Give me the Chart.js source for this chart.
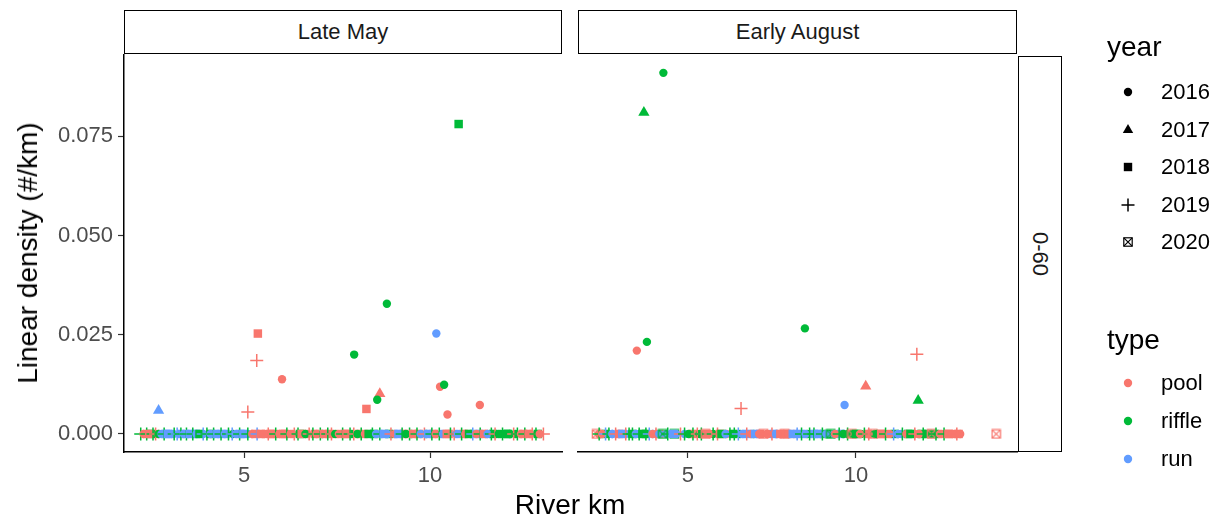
<!DOCTYPE html>
<html>
<head>
<meta charset="utf-8">
<script src="https://cdn.jsdelivr.net/npm/chart.js@4.4.0/dist/chart.umd.min.js"></script>
<style>
    body { margin: 0; background: #fff; font-family: "Liberation Sans", Arial, sans-serif; }
    #wrap { position: relative; width: 1224px; height: 523px; overflow: hidden; background: #fff; }
    canvas { position: absolute; }
    .strip { position: absolute; box-sizing: border-box; border: 1.5px solid #000; background: #fff;
             color: #1a1a1a; font-size: 22px; display: flex; align-items: center; justify-content: center; }
    .lbl { position: absolute; white-space: nowrap; transform: translateY(-50%); color: #000; }
</style>
</head>
<body>
<div id="wrap">
    <canvas id="mayChart" width="570" height="523" style="left:0;top:0"></canvas>
    <canvas id="augChart" width="460" height="523" style="left:570px;top:0"></canvas>
    <canvas id="legendShapes" width="40" height="420" style="left:1108px;top:60px"></canvas>

    <div class="strip" style="left:124px;top:10px;width:438px;height:44px">Late May</div>
    <div class="strip" style="left:578px;top:10px;width:439px;height:44px">Early August</div>
    <div class="strip" style="left:1018px;top:56px;width:44px;height:396px;writing-mode:vertical-rl">0-60</div>

    <div class="lbl" style="left:28px;top:253px;font-size:28px;transform:translate(-50%,-50%) rotate(-90deg)">Linear density (#/km)</div>
    <div class="lbl" style="left:570px;top:505px;font-size:28px;transform:translate(-50%,-50%)">River km</div>
    <div id="legend"></div>
</div>

<script>
    const family = '"Liberation Sans", Arial, sans-serif';

    const years = [2016, 2017, 2018, 2019, 2020];
    const types = ['pool', 'riffle', 'run'];
    const typeColors = ['#F8766D', '#00BA38', '#619CFF'];
    const yTicks = [0, 0.025, 0.05, 0.075];
    const xTicks = [5, 10];

    // Late May - sites with fish
    const mayX = [2.70, 5.10, 5.37, 5.34, 6.02, 7.96, 8.84, 8.65, 8.58, 8.29, 10.17, 10.27, 10.38, 11.34, 10.47, 10.77];
    const mayY = [0.0059, 0.0055, 0.0253, 0.0185, 0.0138, 0.0200, 0.0328, 0.0101, 0.0086, 0.0063, 0.0253, 0.0119, 0.0124, 0.0073, 0.0049, 0.0781];
    const mayType = ['run', 'pool', 'pool', 'pool', 'pool', 'riffle', 'riffle', 'pool', 'riffle', 'pool', 'run', 'pool', 'riffle', 'pool', 'pool', 'riffle'];
    const mayYear = [2017, 2019, 2018, 2019, 2016, 2016, 2016, 2017, 2016, 2018, 2016, 2016, 2016, 2016, 2016, 2018];

    // Late May - sites with none (density 0), filled markers
    const mayZeroFillX = [2.30, 2.50, 2.70, 2.90, 3.10, 3.30, 3.50, 3.70, 3.90, 4.10, 4.30, 4.50, 4.70, 4.90, 5.10, 5.30, 5.50, 5.70,
        5.90, 6.10, 6.30, 6.50, 6.70, 6.90, 7.10, 7.30, 7.50, 7.70, 7.90, 8.10, 8.30, 8.50, 8.70, 8.90, 9.10, 9.30,
        9.50, 9.70, 9.90, 10.10, 10.30, 10.50, 10.70, 10.90, 11.10, 11.30, 11.50, 11.70, 11.90, 12.10, 12.30, 12.50, 12.70, 12.90];
    const mayZeroFillType = ['pool', 'riffle', 'pool', 'run', 'run', 'run', 'run', 'run', 'run', 'riffle', 'run', 'run', 'riffle', 'run', 'run', 'pool', 'pool', 'pool',
        'pool', 'pool', 'pool', 'riffle', 'pool', 'pool', 'riffle', 'pool', 'pool', 'pool', 'riffle', 'pool', 'pool', 'riffle', 'run', 'riffle', 'run', 'pool',
        'riffle', 'pool', 'riffle', 'pool', 'run', 'pool', 'run', 'pool', 'riffle', 'run', 'pool', 'riffle', 'riffle', 'riffle', 'riffle', 'pool', 'pool', 'riffle'];
    const mayZeroFillYear = [2016, 2018, 2016, 2018, 2016, 2018, 2016, 2018, 2016, 2018, 2016, 2018, 2016, 2018, 2016, 2018, 2016, 2018,
        2016, 2018, 2016, 2018, 2016, 2018, 2016, 2018, 2016, 2018, 2016, 2018, 2016, 2018, 2016, 2018, 2016, 2018,
        2016, 2018, 2016, 2018, 2016, 2018, 2016, 2018, 2016, 2018, 2016, 2018, 2016, 2018, 2016, 2018, 2016, 2018];

    // Late May - sites with none (density 0)
    const mayZeroX = [2.22, 2.30, 2.38, 2.45, 2.55, 2.62, 2.70, 2.78, 2.85, 2.95, 3.05, 3.12, 3.20, 3.30, 3.38, 3.45, 3.55, 3.62, 3.72, 3.80,
        3.90, 4.00, 4.10, 4.18, 4.28, 4.38, 4.48, 4.58, 4.68, 4.78, 4.88, 4.98, 5.10, 5.22, 5.35, 5.45, 5.55, 5.65, 5.75, 5.85,
        5.95, 6.05, 6.15, 6.25, 6.35, 6.45, 6.55, 6.65, 6.75, 6.85, 6.95, 7.05, 7.15, 7.25, 7.35, 7.45, 7.55, 7.65, 7.75, 7.85,
        7.95, 8.05, 8.15, 8.25, 8.35, 8.45, 8.55, 8.65, 8.75, 8.85, 8.95, 9.05, 9.15, 9.25, 9.35, 9.45, 9.55, 9.65, 9.75, 9.85,
        9.95, 10.05, 10.15, 10.25, 10.35, 10.45, 10.55, 10.65, 10.75, 10.85, 10.95, 11.05, 11.15, 11.25, 11.35, 11.45, 11.55, 11.65, 11.75, 11.85,
        11.95, 12.05, 12.15, 12.25, 12.35, 12.45, 12.55, 12.65, 12.75, 12.85, 12.95, 13.05];
    const mayZeroType = ['riffle', 'pool', 'riffle', 'pool', 'riffle', 'pool', 'riffle', 'run', 'riffle', 'run', 'run', 'riffle', 'run', 'riffle', 'run', 'riffle', 'run', 'riffle', 'run', 'riffle',
        'run', 'riffle', 'run', 'riffle', 'run', 'riffle', 'run', 'riffle', 'run', 'run', 'riffle', 'run', 'riffle', 'pool', 'run', 'pool', 'pool', 'pool', 'pool', 'riffle',
        'pool', 'pool', 'riffle', 'pool', 'pool', 'riffle', 'pool', 'riffle', 'pool', 'riffle', 'pool', 'riffle', 'pool', 'riffle', 'pool', 'riffle', 'pool', 'riffle', 'pool', 'riffle',
        'pool', 'riffle', 'riffle', 'pool', 'riffle', 'riffle', 'run', 'riffle', 'run', 'run', 'pool', 'pool', 'run', 'riffle', 'riffle', 'riffle', 'pool', 'riffle', 'run', 'pool',
        'run', 'riffle', 'pool', 'riffle', 'run', 'pool', 'riffle', 'pool', 'run', 'riffle', 'pool', 'riffle', 'run', 'pool', 'riffle', 'pool', 'run', 'riffle', 'pool', 'riffle',
        'riffle', 'riffle', 'riffle', 'pool', 'riffle', 'pool', 'riffle', 'pool', 'pool', 'riffle', 'pool', 'pool'];
    const mayZeroYear = [2019, 2016, 2019, 2018, 2019, 2019, 2016, 2016, 2019, 2018, 2016, 2019, 2019, 2019, 2016, 2019, 2018, 2019, 2016, 2018,
        2019, 2019, 2016, 2019, 2018, 2019, 2016, 2019, 2019, 2016, 2019, 2018, 2019, 2016, 2019, 2018, 2016, 2019, 2018, 2019,
        2016, 2018, 2019, 2016, 2019, 2019, 2018, 2016, 2019, 2019, 2016, 2019, 2018, 2019, 2019, 2016, 2016, 2019, 2018, 2019,
        2019, 2016, 2019, 2016, 2018, 2019, 2016, 2019, 2018, 2016, 2019, 2016, 2018, 2019, 2016, 2019, 2018, 2019, 2016, 2019,
        2018, 2019, 2016, 2019, 2016, 2018, 2019, 2019, 2016, 2019, 2016, 2018, 2019, 2016, 2019, 2018, 2016, 2019, 2019, 2016,
        2019, 2018, 2016, 2019, 2019, 2016, 2019, 2018, 2019, 2019, 2016, 2019];

    // Early August - sites with fish
    const augX = [4.27, 3.69, 3.48, 3.78, 8.48, 11.81, 10.29, 11.85, 9.66, 6.58];
    const augY = [0.0910, 0.0810, 0.0210, 0.0232, 0.0266, 0.0201, 0.0120, 0.0084, 0.0073, 0.0064];
    const augType = ['riffle', 'riffle', 'pool', 'riffle', 'riffle', 'pool', 'pool', 'riffle', 'run', 'pool'];
    const augYear = [2016, 2017, 2016, 2016, 2016, 2019, 2017, 2017, 2016, 2019];

    // Early August - sites with none (density 0), filled markers
    const augZeroFillX = [2.35, 2.55, 2.75, 2.95, 3.15, 3.35, 3.55, 3.75, 3.95, 4.15, 4.35, 4.60, 4.90, 5.15, 5.35, 5.55, 5.75, 5.95,
        6.15, 6.35, 6.55, 6.75, 6.95, 7.15, 7.35, 7.55, 7.75, 7.95, 8.15, 8.35, 8.55, 8.75, 8.95, 9.15, 9.35, 9.55,
        9.75, 9.95, 10.15, 10.35, 10.55, 10.75, 10.95, 11.15, 11.35, 11.55, 11.75, 11.95, 12.15, 12.35, 12.55, 12.75, 12.95, 13.05];
    const augZeroFillType = ['pool', 'riffle', 'run', 'pool', 'run', 'riffle', 'run', 'riffle', 'run', 'pool', 'run', 'riffle', 'run', 'pool', 'riffle', 'pool', 'riffle', 'pool',
        'pool', 'riffle', 'riffle', 'run', 'riffle', 'pool', 'pool', 'run', 'pool', 'pool', 'pool', 'run', 'riffle', 'run', 'riffle', 'riffle', 'run', 'run',
        'riffle', 'riffle', 'riffle', 'pool', 'riffle', 'pool', 'pool', 'riffle', 'run', 'riffle', 'pool', 'riffle', 'pool', 'riffle', 'pool', 'pool', 'pool', 'pool'];
    const augZeroFillYear = [2016, 2018, 2016, 2018, 2016, 2018, 2016, 2018, 2016, 2018, 2016, 2020, 2016, 2018, 2016, 2018, 2016, 2018,
        2016, 2018, 2016, 2018, 2016, 2018, 2016, 2018, 2016, 2018, 2016, 2018, 2016, 2018, 2016, 2018, 2016, 2018,
        2016, 2018, 2016, 2018, 2016, 2018, 2016, 2018, 2016, 2018, 2016, 2018, 2016, 2018, 2016, 2018, 2016, 2018];

    // Early August - sites with none (density 0)
    const augZeroX = [2.28, 2.36, 2.45, 2.55, 2.65, 2.75, 2.85, 2.95, 3.05, 3.15, 3.25, 3.35, 3.45, 3.55, 3.65, 3.75, 3.85, 3.95, 4.05, 4.15,
        4.25, 4.40, 4.55, 4.65, 4.78, 4.90, 5.02, 5.15, 5.28, 5.40, 5.52, 5.65, 5.75, 5.88, 6.00, 6.12, 6.25, 6.38, 6.50, 6.62,
        6.75, 6.88, 7.00, 7.12, 7.25, 7.38, 7.50, 7.62, 7.75, 7.88, 8.00, 8.12, 8.25, 8.38, 8.50, 8.62, 8.75, 8.88, 9.00, 9.12,
        9.25, 9.38, 9.50, 9.62, 9.75, 9.88, 10.00, 10.12, 10.25, 10.38, 10.50, 10.62, 10.75, 10.88, 11.00, 11.12, 11.25, 11.38, 11.50, 11.62,
        11.75, 11.88, 12.00, 12.12, 12.25, 12.38, 12.50, 12.62, 12.75, 12.88, 13.00, 13.10, 14.17];
    const augZeroType = ['pool', 'riffle', 'pool', 'run', 'riffle', 'run', 'pool', 'pool', 'run', 'pool', 'riffle', 'riffle', 'run', 'riffle', 'riffle', 'riffle', 'run', 'pool', 'pool', 'run',
        'riffle', 'riffle', 'run', 'run', 'pool', 'riffle', 'riffle', 'riffle', 'pool', 'riffle', 'pool', 'pool', 'riffle', 'pool', 'riffle', 'run', 'riffle', 'riffle', 'run', 'run',
        'pool', 'pool', 'run', 'pool', 'pool', 'pool', 'pool', 'run', 'pool', 'pool', 'pool', 'run', 'run', 'riffle', 'run', 'riffle', 'riffle', 'run', 'riffle', 'run',
        'riffle', 'pool', 'riffle', 'riffle', 'riffle', 'pool', 'riffle', 'pool', 'riffle', 'pool', 'pool', 'riffle', 'pool', 'riffle', 'pool', 'run', 'run', 'riffle', 'pool', 'riffle',
        'pool', 'pool', 'riffle', 'riffle', 'pool', 'riffle', 'pool', 'riffle', 'pool', 'pool', 'pool', 'pool', 'pool'];
    const augZeroYear = [2020, 2019, 2016, 2019, 2019, 2016, 2019, 2016, 2018, 2019, 2019, 2019, 2016, 2019, 2018, 2019, 2019, 2016, 2019, 2016,
        2020, 2019, 2018, 2016, 2019, 2019, 2016, 2019, 2019, 2019, 2020, 2016, 2019, 2019, 2018, 2016, 2019, 2019, 2019, 2016,
        2019, 2016, 2018, 2016, 2020, 2016, 2019, 2016, 2018, 2020, 2016, 2018, 2019, 2019, 2016, 2019, 2019, 2018, 2019, 2016,
        2020, 2016, 2019, 2016, 2019, 2020, 2018, 2016, 2019, 2019, 2020, 2016, 2018, 2019, 2016, 2019, 2016, 2019, 2016, 2018,
        2019, 2016, 2019, 2018, 2020, 2019, 2016, 2019, 2018, 2016, 2019, 2016, 2020];

    const yMin = -0.00455, yMax = 0.0955;

    // ggplot shapes 16, 17, 15, 3, 7
    function drawShape(ctx, year, x, y, color) {
        ctx.save();
        ctx.fillStyle = color;
        ctx.strokeStyle = color;
        ctx.beginPath();
        if (year === 2016) {
            ctx.arc(x, y, 4.2, 0, Math.PI * 2);
            ctx.fill();
        } else if (year === 2017) {
            const r = 6;
            ctx.moveTo(x, y - r);
            ctx.lineTo(x + r * 0.866, y + r * 0.5);
            ctx.lineTo(x - r * 0.866, y + r * 0.5);
            ctx.closePath();
            ctx.fill();
        } else if (year === 2018) {
            ctx.rect(x - 4.2, y - 4.2, 8.4, 8.4);
            ctx.fill();
        } else if (year === 2019) {
            ctx.lineWidth = 1.5;
            ctx.moveTo(x - 6.5, y); ctx.lineTo(x + 6.5, y);
            ctx.moveTo(x, y - 6.5); ctx.lineTo(x, y + 6.5);
            ctx.stroke();
        } else {
            ctx.lineWidth = 1.2;
            ctx.strokeRect(x - 4.2, y - 4.2, 8.4, 8.4);
            ctx.moveTo(x - 4.2, y - 4.2); ctx.lineTo(x + 4.2, y + 4.2);
            ctx.moveTo(x + 4.2, y - 4.2); ctx.lineTo(x - 4.2, y + 4.2);
            ctx.stroke();
        }
        ctx.restore();
    }

    // boxed-x marker has no Chart.js built-in, so make one image per colour
    const boxImages = {};
    types.forEach((t, i) => {
        const c = document.createElement('canvas');
        c.width = 11; c.height = 11;
        drawShape(c.getContext('2d'), 2020, 5.5, 5.5, typeColors[i]);
        boxImages[t] = c;
    });

    const styleByYear = {2016: 'circle', 2017: 'triangle', 2018: 'rect', 2019: 'cross'};
    const radiusByYear = {2016: 4.2, 2017: 6.5, 2018: 6, 2019: 6.5, 2020: 5};

    function buildPoints(xs, ys, tp, yr) {
        return xs.map((x, i) => ({x: x, y: ys ? ys[i] : 0, type: tp[i], year: yr[i]}));
    }

    function colorOf(ctx) {
        return typeColors[types.indexOf(ctx.raw.type)];
    }

    function makeChart(id, pts, xMin, xMax, showY, pad) {
        return new Chart(document.getElementById(id), {
            type: 'scatter',
            data: {
                datasets: [{
                    data: pts,
                    pointStyle: c => c.raw.year === 2020 ? boxImages[c.raw.type] : styleByYear[c.raw.year],
                    pointRadius: c => radiusByYear[c.raw.year],
                    pointBackgroundColor: colorOf,
                    pointBorderColor: colorOf,
                    pointBorderWidth: c => c.raw.year === 2019 ? 1.5 : 0
                }]
            },
            options: {
                responsive: false,
                animation: false,
                devicePixelRatio: 1,
                layout: {padding: pad},
                plugins: {legend: {display: false}, tooltip: {enabled: false}},
                scales: {
                    x: {
                        type: 'linear', min: xMin, max: xMax,
                        afterBuildTicks: s => { s.ticks = xTicks.map(v => ({value: v})); },
                        afterFit: s => { s.height = 71; },
                        grid: {drawOnChartArea: false, tickLength: 6, tickColor: '#333333', tickWidth: 1.2},
                        border: {color: '#000', width: 1.5},
                        ticks: {color: '#4D4D4D', font: {size: 22, family: family}, padding: 5, maxRotation: 0,
                                callback: v => String(v)}
                    },
                    y: {
                        type: 'linear', min: yMin, max: yMax, display: showY,
                        afterBuildTicks: s => { s.ticks = yTicks.map(v => ({value: v})); },
                        afterFit: s => { s.width = showY ? 124 : 0; },
                        grid: {drawOnChartArea: false, tickLength: 6, tickColor: '#333333', tickWidth: 1.2},
                        border: {color: '#000', width: 1.5},
                        ticks: {color: '#4D4D4D', font: {size: 22, family: family}, padding: 5,
                                callback: v => v.toFixed(3)}
                    }
                }
            }
        });
    }

    const mayPts = buildPoints(mayZeroFillX, null, mayZeroFillType, mayZeroFillYear)
        .concat(buildPoints(mayZeroX, null, mayZeroType, mayZeroYear))
        .concat(buildPoints(mayX, mayY, mayType, mayYear));
    const augPts = buildPoints(augZeroFillX, null, augZeroFillType, augZeroFillYear)
        .concat(buildPoints(augZeroX, null, augZeroType, augZeroYear))
        .concat(buildPoints(augX, augY, augType, augYear));

    makeChart('mayChart', mayPts, 1.77, 13.55, true, {top: 55, right: 8, left: 0, bottom: 0});
    makeChart('augChart', augPts, 1.73, 14.79, false, {top: 55, right: 13, left: 8, bottom: 0});

    // legend
    const legend = document.getElementById('legend');
    const lctx = document.getElementById('legendShapes').getContext('2d');
    const addLabel = (text, x, y, size) => {
        const d = document.createElement('div');
        d.className = 'lbl';
        d.style.left = x + 'px';
        d.style.top = y + 'px';
        d.style.fontSize = size + 'px';
        d.textContent = text;
        legend.appendChild(d);
    };
    addLabel('year', 1107, 47, 28);
    const yearRows = [92, 130, 167, 205, 242];
    years.forEach((yr, i) => {
        drawShape(lctx, yr, 20, yearRows[i] - 60, '#000');
        addLabel(String(yr), 1161, yearRows[i], 22);
    });
    addLabel('type', 1107, 340, 28);
    const typeRows = [383, 421, 459];
    types.forEach((t, i) => {
        drawShape(lctx, 2016, 20, typeRows[i] - 60, typeColors[i]);
        addLabel(t, 1161, typeRows[i], 22);
    });
</script>
</body>
</html>
